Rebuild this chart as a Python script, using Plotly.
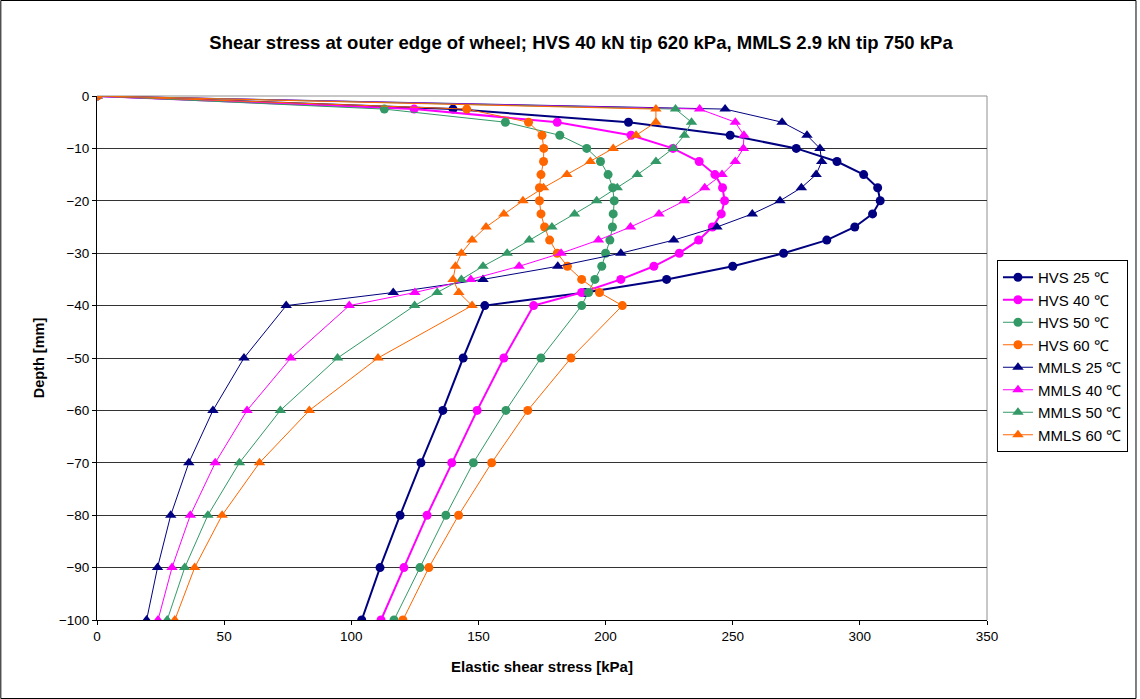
import plotly.graph_objects as go

depths = [0, -2.5, -5, -7.5, -10, -12.5, -15, -17.5, -20, -22.5, -25, -27.5, -30,
          -32.5, -35, -37.5, -40, -50, -60, -70, -80, -90, -100]

hvs_25 = [0, 140, 209, 249, 275, 291, 301.5, 307, 308, 305, 298, 287, 270, 250, 224, 192, 152.5,
          144, 136, 127.4, 119.2, 111.3, 104.1]
hvs_40 = [0, 124.7, 181, 210, 226.5, 236.8, 243, 246, 246.8, 245.5, 242, 236.6, 229, 219, 206, 190.6, 171.7,
          160, 149.5, 139.5, 129.8, 120.7, 111.7]
hvs_50 = [0, 113, 160.6, 182, 192.6, 198, 201, 202.8, 203.4, 203, 202.7, 201.7, 200, 198.5, 195.8, 193.3, 190.6,
          174.6, 160.8, 148, 137.2, 127, 116.8]
hvs_60 = [0, 145.4, 169.7, 175, 175.7, 175.6, 174.6, 174, 174, 174.6, 176, 178, 181, 185, 190.6, 197.6, 206.6,
          186.4, 169.4, 155.2, 142.2, 130.5, 120.3]
mmls_25 = [0, 247, 269.4, 279.2, 284.3, 285, 282.8, 277, 268.6, 257.7, 243.8, 226.8, 206, 181.2, 151.8, 116.5, 74.4,
           57.8, 45.6, 36.1, 29, 23.8, 19.5]
mmls_40 = [0, 237, 251, 254.4, 254.2, 251, 245.8, 239, 231, 221, 209.8, 197.2, 182.5, 166, 147, 125, 99.2,
           76.2, 59, 46.5, 36.7, 29.5, 24]
mmls_50 = [0, 227.5, 233.8, 231, 226.6, 219.8, 212.5, 204.6, 196.5, 187.8, 178.9, 170, 161.3, 151.8, 143.3, 133.8, 124.9,
           94.6, 72.1, 56, 43.6, 34.5, 27.6]
mmls_60 = [0, 219.8, 219.8, 212, 203, 194, 184.8, 175.6, 167.5, 160, 153, 147.5, 143.3, 141, 140, 142.3, 147.5,
           110.5, 83.5, 63.9, 49.2, 38.4, 30.6]

series = [
    ("HVS 25 \u2103", hvs_25, "#000080", "circle", 2),
    ("HVS 40 \u2103", hvs_40, "#FF00FF", "circle", 2),
    ("HVS 50 \u2103", hvs_50, "#339966", "circle", 1),
    ("HVS 60 \u2103", hvs_60, "#FF6600", "circle", 1),
    ("MMLS 25 \u2103", mmls_25, "#000080", "triangle-up", 1),
    ("MMLS 40 \u2103", mmls_40, "#FF00FF", "triangle-up", 1),
    ("MMLS 50 \u2103", mmls_50, "#339966", "triangle-up", 1),
    ("MMLS 60 \u2103", mmls_60, "#FF6600", "triangle-up", 1),
]

fig = go.Figure()
for name, vals, color, sym, lw in series:
    fig.add_trace(go.Scatter(
        x=vals, y=depths, name=name, mode="lines+markers",
        line=dict(color=color, width=lw),
        marker=dict(symbol=sym, size=9 if sym == "circle" else 10, color=color),
    ))

FONT = "Arial, Liberation Sans, sans-serif"
W, H = 1140, 699
L, R, T, B = 97, 150, 96, 79
pw, ph = W - L - R, H - T - B

fig.update_layout(
    width=W, height=H,
    margin=dict(l=L, r=R, t=T, b=B),
    paper_bgcolor="white", plot_bgcolor="white",
    font=dict(family=FONT, size=13, color="black"),
    title=dict(text="<b>Shear stress at outer edge of wheel; HVS 40 kN tip 620 kPa, MMLS 2.9 kN tip 750 kPa</b>",
               x=581 / W, xanchor="center", y=1 - 43 / H, yanchor="middle",
               font=dict(size=18.5, family=FONT)),
    xaxis=dict(range=[0, 350], dtick=50, showgrid=False, zeroline=False,
               showline=True, linecolor="black", linewidth=1,
               ticks="outside", ticklen=4, tickcolor="black",
               tickfont=dict(size=13.5),
               title=dict(text="<b>Elastic shear stress [kPa]</b>", font=dict(size=15), standoff=18)),
    yaxis=dict(range=[-100, 0], dtick=10, showgrid=True, gridcolor="#333333", gridwidth=1,
               zeroline=False, showline=True, linecolor="black", linewidth=1,
               ticks="outside", ticklen=4, tickcolor="black",
               tickfont=dict(size=13.5),
               title=dict(text="<b>Depth [mm]</b>", font=dict(size=14.5), standoff=10)),
    legend=dict(x=(1000 - L) / pw, y=(H - B - 260) / ph, xanchor="left", yanchor="top",
                bordercolor="black", borderwidth=1, bgcolor="white",
                font=dict(size=15, family=FONT), tracegroupgap=0),
    showlegend=True,
)

# gray plot-area frame on top and right, drawn below the traces
fig.add_shape(type="line", xref="paper", yref="paper", x0=0, y0=1, x1=1, y1=1,
              line=dict(color="#909090", width=1), layer="below")
fig.add_shape(type="line", xref="paper", yref="paper", x0=1, y0=0, x1=1, y1=1,
              line=dict(color="#909090", width=1), layer="below")
# outer chart border
fig.add_shape(type="rect", xref="paper", yref="paper",
              x0=(0.5 - L) / pw, x1=(W - 0.5 - L) / pw,
              y0=(H - B - (H - 0.5)) / ph, y1=(H - B - 0.5) / ph,
              line=dict(color="black", width=1))

fig.write_html("out.html", config={"displayModeBar": False},
               post_script="document.body.style.margin='0';document.body.style.overflow='hidden';")
